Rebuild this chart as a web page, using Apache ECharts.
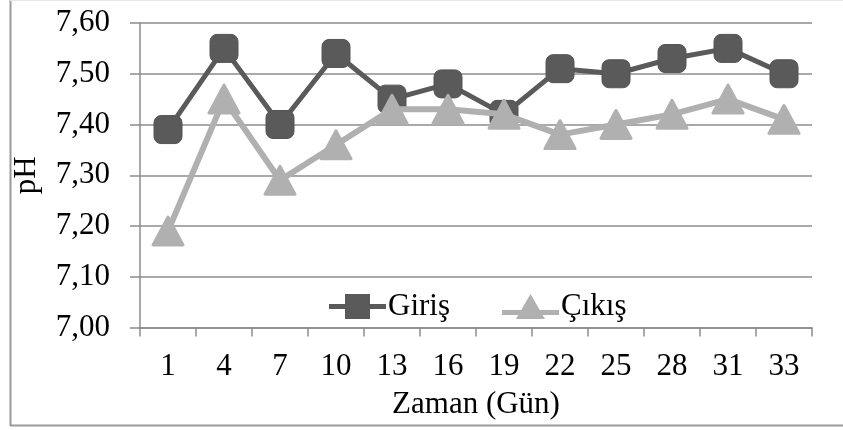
<!DOCTYPE html>
<html>
<head>
<meta charset="utf-8">
<script src="https://cdn.jsdelivr.net/npm/echarts@6/dist/echarts.min.js"></script>
<style>
  html, body { margin: 0; padding: 0; background: #fff; }
  #chart { width: 843px; height: 430px; }
</style>
</head>
<body>
<div id="chart"></div>
<script>
// Sampling days (x categories)
const days = ['1', '4', '7', '10', '13', '16', '19', '22', '25', '28', '31', '33'];
// pH at the inlet
const girisValues = [7.39, 7.55, 7.40, 7.54, 7.45, 7.48, 7.42, 7.51, 7.50, 7.53, 7.55, 7.50];
// pH at the outlet
const cikisValues = [7.19, 7.45, 7.29, 7.36, 7.43, 7.43, 7.42, 7.38, 7.40, 7.42, 7.45, 7.41];
const seriesNames = ['Giriş', 'Çıkış'];
const xAxisTitle = 'Zaman (Gün)';
const yAxisTitle = 'pH';

const FONT = '"Liberation Serif", "DejaVu Serif", serif';
const FS = 31;
const DARK = '#5a5a5a';
const LIGHT = '#b0b0b0';
const GRIDLINE = '#8c8c8c';

// Legend icons: thick line segment with the series marker in the middle
const ICON_SQUARE = 'path://M0,10L57,10L57,15L0,15Z M16,0L41,0L41,25L16,25Z';
const ICON_TRIANGLE = 'path://M0,16L57,16L57,21L0,21Z M28.5,0L43,25L14,25Z';

const chart = echarts.init(document.getElementById('chart'), null, { renderer: 'canvas' });

chart.setOption({
  backgroundColor: '#fff',
  animation: false,
  textStyle: { fontFamily: FONT },
  grid: { left: 140, right: 31, top: 23, bottom: 102.5, containLabel: false },
  legend: {
    left: 324,
    top: 286,
    itemWidth: 57,
    itemHeight: 25,
    itemGap: 52,
    textStyle: { fontFamily: FONT, fontSize: FS, color: '#000', padding: [0, 0, 0, -3] },
    data: [
      { name: seriesNames[0], icon: ICON_SQUARE, itemStyle: { color: DARK, borderWidth: 0 } },
      { name: seriesNames[1], icon: ICON_TRIANGLE, itemStyle: { color: LIGHT, borderWidth: 0 } }
    ]
  },
  xAxis: {
    type: 'category',
    data: days,
    boundaryGap: true,
    name: xAxisTitle,
    nameLocation: 'middle',
    nameGap: 62,
    nameTextStyle: { fontFamily: FONT, fontSize: FS, color: '#000' },
    axisLine: { lineStyle: { color: GRIDLINE, width: 1.5 } },
    axisTick: { show: true, length: 9, lineStyle: { color: GRIDLINE, width: 1.5 } },
    axisLabel: { fontFamily: FONT, fontSize: FS, color: '#000', margin: 24 },
    splitLine: { show: false }
  },
  yAxis: {
    type: 'value',
    min: 7.0,
    max: 7.6,
    interval: 0.1,
    name: yAxisTitle,
    nameLocation: 'middle',
    nameRotate: 90,
    nameGap: 98,
    nameTextStyle: { fontFamily: FONT, fontSize: FS, color: '#000' },
    axisLine: { show: true, lineStyle: { color: GRIDLINE, width: 1.5 } },
    axisTick: { show: true, length: 10, lineStyle: { color: GRIDLINE, width: 1.5 } },
    axisLabel: {
      fontFamily: FONT, fontSize: FS, color: '#000', margin: 30,
      formatter: v => v.toFixed(2).replace('.', ',')
    },
    splitLine: { show: true, lineStyle: { color: GRIDLINE, width: 1.5 } }
  },
  series: [
    {
      name: seriesNames[0],
      type: 'line',
      data: girisValues,
      symbol: 'roundRect',
      symbolSize: 28,
      lineStyle: { color: DARK, width: 5 },
      itemStyle: { color: DARK, borderColor: '#555', borderWidth: 1 },
      z: 3
    },
    {
      name: seriesNames[1],
      type: 'line',
      data: cikisValues,
      symbol: 'triangle',
      symbolSize: [30, 28],
      lineStyle: { color: LIGHT, width: 6 },
      itemStyle: { color: LIGHT, borderColor: LIGHT, borderWidth: 3, borderJoin: 'round' },
      z: 4
    }
  ],
  graphic: [
    { type: 'line', shape: { x1: 10.5, y1: 0, x2: 10.5, y2: 426 }, style: { stroke: '#9a9a9a', lineWidth: 2 } },
    { type: 'line', shape: { x1: 10, y1: 425.5, x2: 843, y2: 425.5 }, style: { stroke: '#9a9a9a', lineWidth: 2 } },
    { type: 'line', shape: { x1: 10, y1: 0.5, x2: 843, y2: 0.5 }, style: { stroke: '#e6e6e6', lineWidth: 1 } }
  ]
});
</script>
</body>
</html>
